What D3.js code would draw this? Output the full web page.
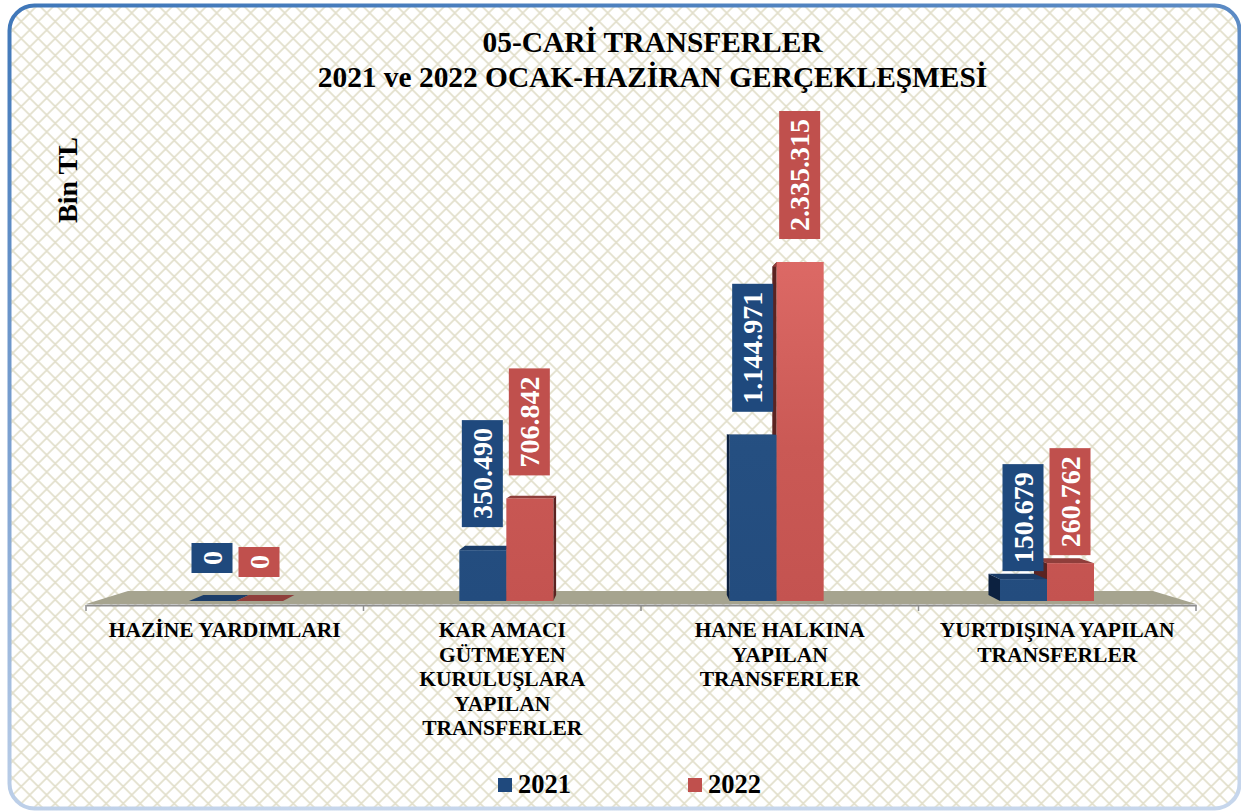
<!DOCTYPE html>
<html>
<head>
  <title>05-CARİ TRANSFERLER</title>
  <script src="https://d3js.org/d3.v7.min.js"></script>
  <style>
    html, body { margin: 0; padding: 0; background: #fff; }
    svg { display: block; }
    text { font-family: "Liberation Serif", "Times New Roman", serif; font-weight: bold; }
  </style>
</head>
<body>
  <div id="chart"></div>
  <script>
const categories = ["HAZİNE YARDIMLARI", "KAR AMACI GÜTMEYEN KURULUŞLARA YAPILAN TRANSFERLER", "HANE HALKINA YAPILAN TRANSFERLER", "YURTDIŞINA YAPILAN TRANSFERLER"];
const categoryLines = [
  ["HAZİNE YARDIMLARI"],
  ["KAR AMACI", "GÜTMEYEN", "KURULUŞLARA", "YAPILAN", "TRANSFERLER"],
  ["HANE HALKINA", "YAPILAN", "TRANSFERLER"],
  ["YURTDIŞINA YAPILAN", "TRANSFERLER"]
];
const seriesNames = ["2021", "2022"];
const values2021 = [0, 350490, 1144971, 150679];
const values2022 = [0, 706842, 2335315, 260762];
const titleLines = ["05-CARİ TRANSFERLER", "2021 ve 2022 OCAK-HAZİRAN GERÇEKLEŞMESİ"];

const width = 1241;
const height = 811;
const baseY = 601;
const barWidth = 47;
const depth = 0.032;
const vanish = { x: 640, y: 414 };

const colors = {
  "2021": { label: "#1f497d", front: ["#2b588b", "#234c7e"], top: "#1b3d69", side: "#0c2140" },
  "2022": { label: "#c0504d", front: ["#dc6965", "#c45350"], top: "#8f3e3b", side: "#5a2321" }
};

const bars = categories.flatMap((c, i) => [
  { cat: c, series: "2021", value: values2021[i] },
  { cat: c, series: "2022", value: values2022[i] }
]);

const svg = d3.select("#chart").append("svg")
  .attr("width", width)
  .attr("height", height);

const defs = svg.append("defs");

// arka plan deseni
const pattern = defs.append("pattern")
  .attr("id", "lattice")
  .attr("patternUnits", "userSpaceOnUse")
  .attr("patternTransform", "translate(12.7,13)")
  .attr("width", 17)
  .attr("height", 17);
pattern.append("path")
  .attr("d", "M0,0L17,17M17,0L0,17")
  .attr("stroke", "#e2dfcb")
  .attr("stroke-width", 1.7)
  .attr("fill", "none");

const frameGrad = defs.append("linearGradient")
  .attr("id", "frameGrad")
  .attr("x1", 0).attr("y1", 0).attr("x2", 0.25).attr("y2", 1);
frameGrad.append("stop").attr("offset", "0%").attr("stop-color", "#3f77b9");
frameGrad.append("stop").attr("offset", "55%").attr("stop-color", "#7fa3d2");
frameGrad.append("stop").attr("offset", "100%").attr("stop-color", "#c6d6ec");

const y = d3.scaleLinear().domain([0, 2335315]).range([baseY, 262]);

// tüm çubuklarda aynı renk geçişi: uzun çubuğun üstü daha açık
seriesNames.forEach(s => {
  const g = defs.append("linearGradient")
    .attr("id", "front" + s)
    .attr("gradientUnits", "userSpaceOnUse")
    .attr("x1", 0).attr("y1", y(2335315)).attr("x2", 0).attr("y2", baseY);
  g.append("stop").attr("offset", "0%").attr("stop-color", colors[s].front[0]);
  g.append("stop").attr("offset", "55%").attr("stop-color", d3.interpolateRgb(colors[s].front[0], colors[s].front[1])(0.75));
  g.append("stop").attr("offset", "100%").attr("stop-color", colors[s].front[1]);
});

svg.append("rect")
  .attr("x", 9.5).attr("y", 5.5)
  .attr("width", 1230).attr("height", 803)
  .attr("rx", 25)
  .attr("fill", "url(#lattice)")
  .attr("stroke", "url(#frameGrad)")
  .attr("stroke-width", 4);

// başlık
svg.append("g").selectAll("text")
  .data(titleLines)
  .join("text")
    .attr("x", 652.5)
    .attr("y", (d, i) => 52 + i * 34.5)
    .attr("text-anchor", "middle")
    .attr("font-size", 29.4)
    .attr("fill", "#000")
    .text(d => d);

svg.append("text")
  .attr("transform", "translate(77,180) rotate(-90)")
  .attr("text-anchor", "middle")
  .attr("font-size", 28)
  .text("Bin TL");

// ölçekler
const xAxisScale = d3.scaleBand().domain(categories).range([86, 1196]);
const x0 = d3.scalePoint().domain(categories).range([236, 1047]);
const x1 = d3.scaleBand().domain(seriesNames).range([-barWidth, barWidth]);

// arkaya doğru izdüşüm
function back(px, py) {
  return [px + (vanish.x - px) * depth, py + (vanish.y - py) * depth];
}
function poly(pts) {
  return "M" + pts.map(p => p.join(",")).join("L") + "Z";
}

// zemin
const floorBack = 591;
const floorFront = 604;
const range = xAxisScale.range();
svg.append("path")
  .attr("d", poly([[range[0], floorFront], [128, floorBack], [1153, floorBack], [range[1], floorFront]]))
  .attr("fill", "#a6a48f");

const axisG = svg.append("g").attr("transform", `translate(0,${floorFront + 1})`);
axisG.call(d3.axisBottom(xAxisScale).tickSize(0).tickPadding(0))
  .call(g => g.select(".domain").attr("stroke", "#8e8e8e").attr("stroke-width", 2))
  .call(g => g.selectAll(".tick text").remove());

const boundaries = categories.map(c => xAxisScale(c)).concat(range[1]);
axisG.selectAll("line.boundary")
  .data(boundaries)
  .join("line")
    .attr("class", "boundary")
    .attr("x1", d => d).attr("x2", d => d)
    .attr("y1", 0).attr("y2", 6)
    .attr("stroke", "#8e8e8e")
    .attr("stroke-width", 1.5);

// kategori etiketleri
const catLabels = svg.append("g").selectAll("text")
  .data(categories)
  .join("text")
    .attr("text-anchor", "middle")
    .attr("font-size", 21.5)
    .attr("fill", "#000");
catLabels.selectAll("tspan")
  .data((d, i) => categoryLines[i].map(line => ({ line, cat: d })))
  .join("tspan")
    .attr("x", d => xAxisScale(d.cat) + xAxisScale.bandwidth() / 2)
    .attr("y", (d, i) => 637 + i * 24.5)
    .text(d => d.line);

// çubuklar
function barLeft(d) { return x0(d.cat) + x1(d.series); }

function backFaces(d) {
  const l = barLeft(d), r = l + barWidth, t = y(d.value), b = baseY;
  const faces = [];
  const edge = l > vanish.x ? l : r;
  if (d.value > 0) {
    faces.push({ d: poly([[edge, t], back(edge, t), back(edge, b), [edge, b]]), fill: colors[d.series].side });
  }
  faces.push({ d: poly([[l, t], back(l, t), back(r, t), [r, t]]), fill: colors[d.series].top });
  return faces;
}

// sağ taraftaki gruplarda mavi yüz kırmızının önüne gelir
const backOrder = bars.slice().sort((a, b) => {
  const right = barLeft(a) > vanish.x && barLeft(b) > vanish.x;
  if (a.cat === b.cat && right) return a.series === "2021" ? 1 : -1;
  return 0;
});

svg.append("g").selectAll("path")
  .data(backOrder.flatMap(d => backFaces(d)))
  .join("path")
    .attr("d", d => d.d)
    .attr("fill", d => d.fill);

// yükseklik sıfır olan çubukların düz yüzeyi
svg.append("g").selectAll("rect")
  .data(bars.filter(d => d.value > 0))
  .join("rect")
    .attr("x", barLeft)
    .attr("y", d => y(d.value))
    .attr("width", barWidth)
    .attr("height", d => baseY - y(d.value))
    .attr("fill", d => "url(#front" + d.series + ")");

// değer etiketleri
const fmt = v => d3.format(",")(v).replace(/,/g, ".");
const labelSize = 28;
const labelPad = 8;
function labelGap(d) {
  if (d.value === 0) return d.series === "2021" ? 28 : 24;
  return d.cat === categories[3] ? 8 : 23;
}

const labels = svg.append("g").selectAll("g")
  .data(bars)
  .join("g");

labels.append("rect").attr("fill", d => colors[d.series].label);
labels.append("text")
  .attr("text-anchor", "middle")
  .attr("font-size", labelSize)
  .attr("fill", "#fff")
  .text(d => fmt(d.value));

labels.each(function(d) {
  const g = d3.select(this);
  const len = g.select("text").node().getComputedTextLength() + labelPad * 2;
  const cx = barLeft(d) + barWidth / 2 - 0.5;
  const bottom = y(d.value) - labelGap(d);
  g.select("rect")
    .attr("x", cx - 20.5)
    .attr("y", bottom - len)
    .attr("width", 41)
    .attr("height", len);
  g.select("text")
    .attr("transform", `translate(${cx + 9.5},${bottom - len / 2}) rotate(-90)`);
});

// gösterge
const legendX = d3.scalePoint().domain(seriesNames).range([498, 688]);
const legend = svg.append("g").selectAll("g")
  .data(seriesNames)
  .join("g")
    .attr("transform", d => `translate(${legendX(d)},778)`);
legend.append("rect")
  .attr("width", 14)
  .attr("height", 14)
  .attr("fill", d => colors[d].label);
legend.append("text")
  .attr("x", 20)
  .attr("y", 15)
  .attr("font-size", 26.5)
  .text(d => d);
  </script>
</body>
</html>
